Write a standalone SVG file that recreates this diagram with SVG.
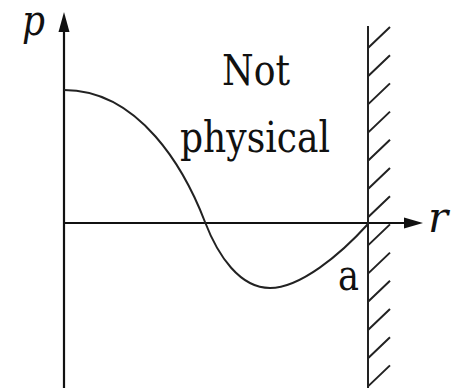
<svg xmlns="http://www.w3.org/2000/svg" width="452" height="388" viewBox="0 0 452 388">
  <style>
    .ax { stroke: #111; stroke-width: 2.2; fill: none; }
    .curve { stroke: #222; stroke-width: 2; fill: none; }
    .hatch { stroke: #222; stroke-width: 2; fill: none; }
    text { font-family: 'DejaVu Serif', 'Liberation Serif', serif; font-size: 42px; fill: #111; }
    .it { font-style: italic; }
  </style>
  <rect width="452" height="388" fill="#fff"/>
  <g id="connectors">
    <line class="ax" x1="64" y1="388" x2="64" y2="28"/>
    <polygon points="64,12 58.5,32 69.5,32" fill="#111"/>
    <line class="ax" x1="64" y1="223" x2="408" y2="223"/>
    <polygon points="423,223 404,217.5 404,228.5" fill="#111"/>
    <path class="curve" d="M64,90 C140,90 185,170 205,222 C218,256 240,288 270,288 C300,288 340,255 368,224"/>
  </g>
  <g id="wall">
    <line class="hatch" x1="368" y1="26" x2="368" y2="388"/>
    <path class="hatch" d="M368,48l22,-21 M368,76.2l22,-21 M368,104.4l22,-21 M368,132.6l22,-21 M368,160.8l22,-21 M368,189l22,-21 M368,217.2l22,-21 M368,245.4l22,-21 M368,273.6l22,-21 M368,301.8l22,-21 M368,330l22,-21 M368,358.2l22,-21 M368,386.4l22,-21"/>
  </g>
  <g id="labels">
    <text class="it" x="22" y="35" textLength="23" lengthAdjust="spacingAndGlyphs">p</text>
    <text class="it" x="428" y="232" textLength="20" lengthAdjust="spacingAndGlyphs">r</text>
    <text x="222" y="85" textLength="68" lengthAdjust="spacingAndGlyphs">Not</text>
    <text x="180" y="152" textLength="150" lengthAdjust="spacingAndGlyphs">physical</text>
    <text x="338" y="290" textLength="21" lengthAdjust="spacingAndGlyphs">a</text>
  </g>
</svg>
